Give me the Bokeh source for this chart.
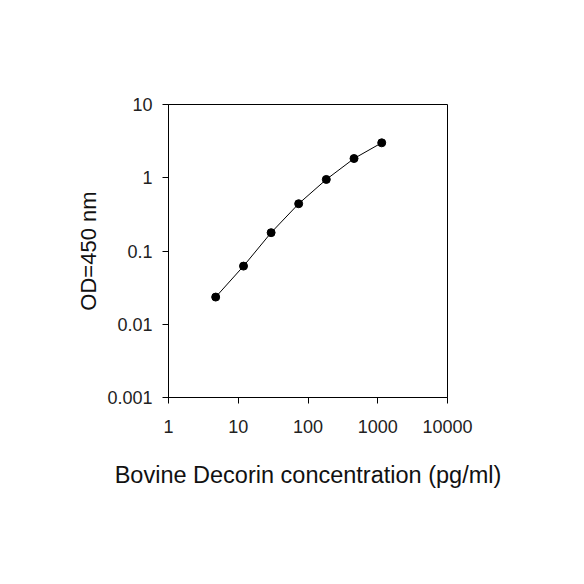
from bokeh.plotting import figure
from bokeh.models import Range1d, FixedTicker, CustomJSTickFormatter
from bokeh.embed import file_html
from bokeh.resources import INLINE

# Data
concentration = [4.75, 11.9, 29.6, 73.5, 183, 457, 1140]
od450 = [0.0235, 0.0622, 0.178, 0.442, 0.948, 1.83, 3.0]
x_ticks = [1, 10, 100, 1000, 10000]
y_ticks = [0.001, 0.01, 0.1, 1, 10]

FONT = "Liberation Sans"

p = figure(width=568, height=568, x_axis_type="log", y_axis_type="log",
           x_range=Range1d(1, 10000), y_range=Range1d(0.001, 10),
           output_backend="svg", toolbar_location=None,
           min_border_left=168, min_border_right=121,
           min_border_top=104, min_border_bottom=171)

p.line(concentration, od450, line_color="black", line_width=1)
p.scatter(concentration, od450, size=8, fill_color="black", line_color="black")

p.xgrid.visible = False
p.ygrid.visible = False
p.outline_line_color = "black"
p.outline_line_width = 1

fmt = CustomJSTickFormatter(code="return String(tick);")
for ax, ticks in ((p.xaxis[0], x_ticks), (p.yaxis[0], y_ticks)):
    ax.ticker = FixedTicker(ticks=ticks, minor_ticks=[])
    ax.formatter = fmt
    ax.axis_line_color = "black"
    ax.major_tick_line_color = "black"
    ax.major_tick_in = 0
    ax.major_tick_out = 6
    ax.minor_tick_line_color = None
    ax.major_label_text_font = FONT
    ax.major_label_text_font_size = "18px"
    ax.major_label_text_color = "#222222"
    ax.axis_label_text_font = FONT
    ax.axis_label_text_font_style = "normal"
    ax.axis_label_text_color = "#111111"

p.xaxis.axis_label = "Bovine Decorin concentration (pg/ml)"
p.yaxis.axis_label = "OD=450 nm"
p.xaxis.axis_label_text_font_size = "23.5px"
p.yaxis.axis_label_text_font_size = "22px"
p.xaxis.major_label_standoff = 16
p.yaxis.major_label_standoff = 10
p.xaxis.axis_label_standoff = 26
p.yaxis.axis_label_standoff = 3

open("out.html", "w").write(file_html(p, INLINE))
